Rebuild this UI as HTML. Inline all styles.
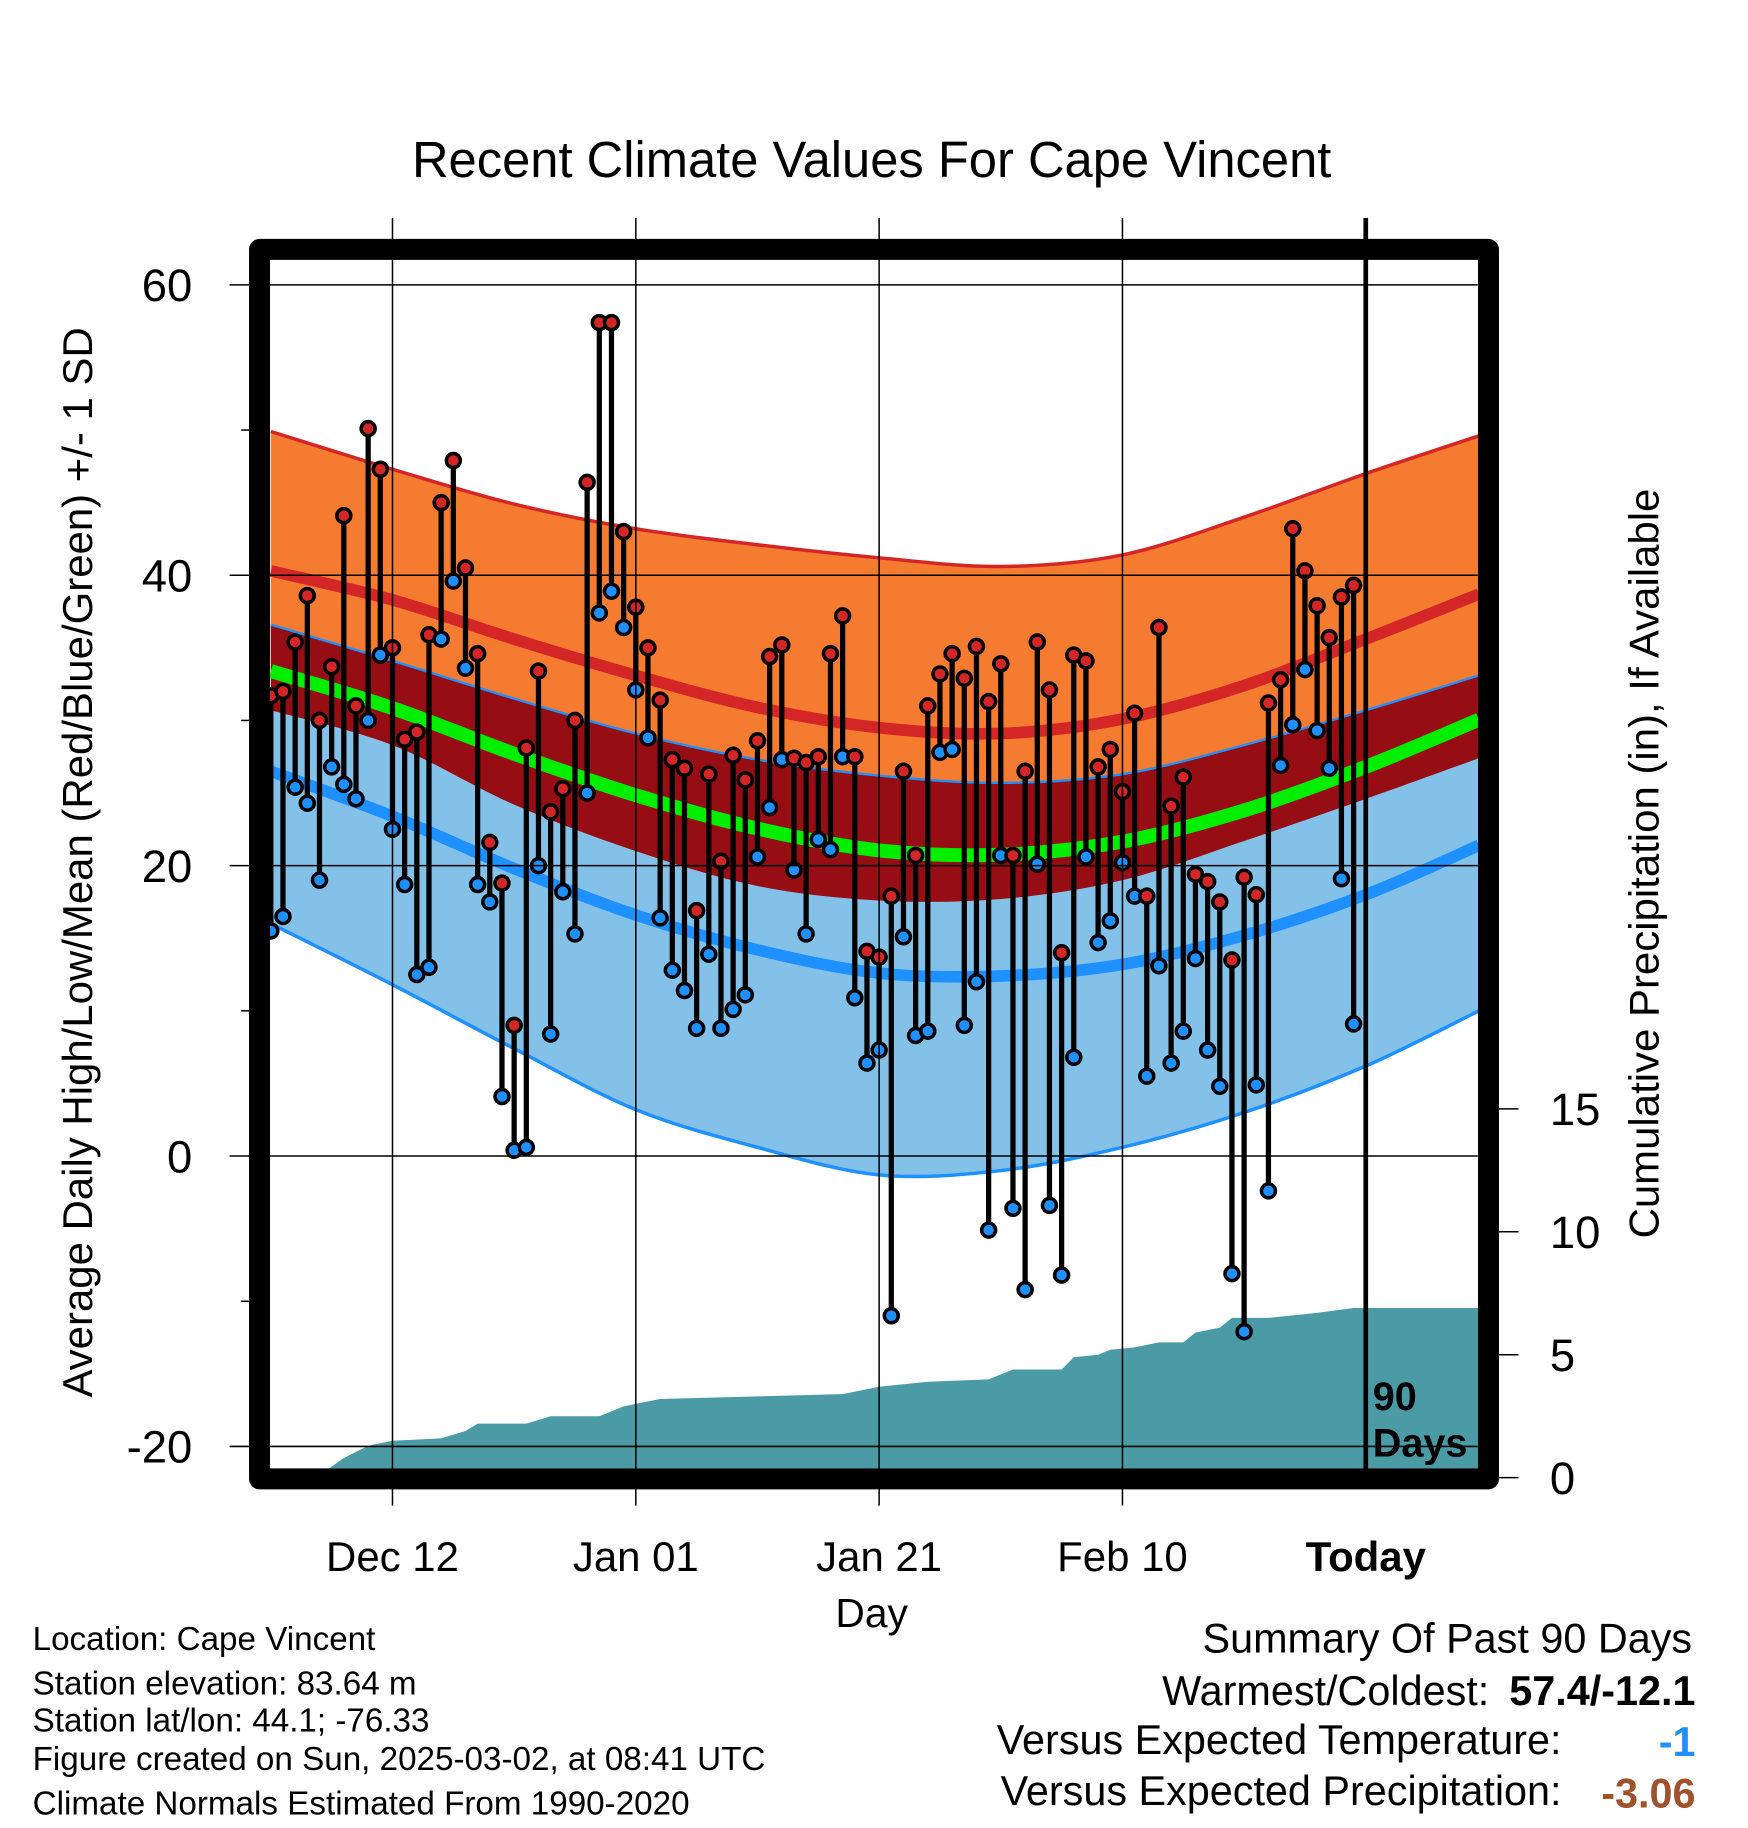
<!DOCTYPE html>
<html><head><meta charset="utf-8"><style>
html,body{margin:0;padding:0;background:#fff;}
svg{display:block;font-family:"Liberation Sans",Arial,sans-serif;}
</style></head><body>
<svg id="chart" width="1748" height="1828" viewBox="0 0 1500 1568.6" xmlns="http://www.w3.org/2000/svg">
<defs><clipPath id="plotclip"><rect x="231.7" y="223" width="1036.6" height="1037"/></clipPath></defs>
<text x="748" y="152" font-size="43.5" text-anchor="middle">Recent Climate Values For Cape Vincent</text>
<g id="plot" clip-path="url(#plotclip)"></g>
<g id="axes"></g>
<rect x="222.7" y="214" width="1054.6" height="1055" fill="none" stroke="#000" stroke-width="18" stroke-linejoin="round"/>
<text transform="translate(79,740) rotate(-90)" font-size="36" text-anchor="middle">Average Daily High/Low/Mean (Red/Blue/Green) +/- 1 SD</text>
<text transform="translate(1423,741) rotate(-90)" font-size="36" text-anchor="middle">Cumulative Precipitation (in), If Available</text>
<text x="748" y="1396" font-size="35" text-anchor="middle">Day</text>
<text x="1178" y="1210" font-size="34" font-weight="bold">90</text>
<text x="1178" y="1250" font-size="34" font-weight="bold">Days</text>
<g font-size="28.5">
<text x="28" y="1416">Location: Cape Vincent</text>
<text x="28" y="1454">Station elevation: 83.64 m</text>
<text x="28" y="1486">Station lat/lon: 44.1; -76.33</text>
<text x="28" y="1519">Figure created on Sun, 2025-03-02, at 08:41 UTC</text>
<text x="28" y="1557">Climate Normals Estimated From 1990-2020</text>
</g>
<g font-size="35.5">
<text x="1452" y="1418" text-anchor="end">Summary Of Past 90 Days</text>
<text x="1278" y="1463" text-anchor="end">Warmest/Coldest:</text>
<text x="1455" y="1463" text-anchor="end" font-weight="bold">57.4/-12.1</text>
<text x="1340" y="1505" text-anchor="end">Versus Expected Temperature:</text>
<text x="1455" y="1507" text-anchor="end" font-weight="bold" fill="#1e90ff">-1</text>
<text x="1340" y="1549" text-anchor="end">Versus Expected Precipitation:</text>
<text x="1455" y="1551" text-anchor="end" font-weight="bold" fill="#a0522d">-3.06</text>
</g>
</svg>
<script>
// Data (day offsets relative to today; -90..-1)
const highs=[31.7,32,35.4,38.6,30,33.7,44.1,31,50.1,47.3,35,28.7,29.2,35.9,45,47.9,40.5,34.6,21.6,18.8,9,28.1,33.4,23.7,25.3,30,46.4,57.4,57.4,43,37.8,35,31.4,27.3,26.7,16.9,26.3,20.3,27.6,25.9,28.6,34.4,35.2,27.4,27.1,27.5,34.6,37.2,27.5,14.1,13.7,17.9,26.5,20.7,31,33.2,34.6,32.9,35.1,31.3,33.9,20.7,26.5,35.4,32.1,14,34.5,34.1,26.8,28,25.1,30.5,17.9,36.4,24.1,26.1,19.4,18.9,17.5,13.5,19.2,18,31.2,32.8,43.2,40.3,37.9,35.7,38.5,39.3];
const lows=[15.5,16.5,25.4,24.3,19,26.8,25.6,24.6,30,34.5,22.5,18.7,12.5,13,35.6,39.6,33.6,18.7,17.5,4.1,0.4,0.6,20,8.4,18.2,15.3,25,37.4,38.9,36.4,32.1,28.8,16.4,12.8,11.4,8.8,13.9,8.8,10.1,11.1,20.6,24,27.3,19.7,15.3,21.8,21.1,27.5,10.9,6.4,7.3,-11,15.1,8.3,8.6,27.8,28,9,12,-5.1,20.7,-3.6,-9.2,20.1,-3.4,-8.2,6.8,20.6,14.7,16.2,20.2,17.9,5.5,13.1,6.4,8.6,13.6,7.3,4.8,-8.1,-12.1,4.9,-2.4,26.9,29.7,33.5,29.3,26.7,19.1,9.1];
const normDays=[-90,-80,-70,-60,-50,-40,-30,-20,-10,0,9.3];
const highUpper=[49.9,47.3,44.9,43.2,42.1,41.2,40.6,41.4,44.0,47.0,49.6];
const highMean=[40.3,38.3,35.6,33.1,30.9,29.5,29.1,30.1,32.4,35.6,38.7];
const highLower=[30.7,28.3,24.2,21.0,18.6,17.6,17.7,19.0,21.7,24.6,27.4];
const lowUpper=[36.6,34.1,31.5,29.1,27.3,26.2,25.7,26.3,28.3,30.7,33.1];
const lowMean=[26.5,23.4,19.8,16.6,14.2,12.6,12.4,13.2,15.2,18.0,21.4];
const lowLower=[16.0,11.8,7.4,3.2,0.6,-1.3,-1.0,0.6,3.0,6.2,10.0];
const precipDays=[-86,-84,-82,-80,-76,-74,-73,-69,-67,-63,-61,-60,-58,-43,-40,-36,-31,-29,-25,-24,-22,-21,-19,-17,-15,-14,-12,-11,-8,-4,-1,9.3];
const precipCum=[0.1,0.8,1.3,1.5,1.6,1.9,2.2,2.2,2.5,2.5,2.9,3.0,3.2,3.4,3.7,3.9,4.0,4.4,4.4,4.9,5.0,5.2,5.3,5.5,5.5,5.9,6.1,6.5,6.5,6.7,6.9,6.9];
const xTickDays=[-80,-60,-40,-20,0];
const xTickLabels=["Dec 12","Jan 01","Jan 21","Feb 10","Today"];
const yTicks=[60,40,20,0,-20];
const yMinor=[50,30,10,-10];
const pTicks=[0,5,10,15];

const NS="http://www.w3.org/2000/svg";
const X=d=>1172+d*10.44;
const Y=v=>992-v*12.46;
const P=v=>1268-v*21.1;
function mk(tag,attrs,parent){const e=document.createElementNS(NS,tag);for(const k in attrs)e.setAttribute(k,attrs[k]);parent.appendChild(e);return e;}
function smooth(xs,ys){
  let d=`M${xs[0]},${ys[0]}`;
  for(let i=0;i<xs.length-1;i++){
    const x0=xs[Math.max(i-1,0)],y0=ys[Math.max(i-1,0)],x1=xs[i],y1=ys[i],x2=xs[i+1],y2=ys[i+1],x3=xs[Math.min(i+2,xs.length-1)],y3=ys[Math.min(i+2,xs.length-1)];
    d+=` C${x1+(x2-x0)/6},${y1+(y2-y0)/6} ${x2-(x3-x1)/6},${y2-(y3-y1)/6} ${x2},${y2}`;
  }
  return d;
}
function smoothRev(xs,ys){const d=smooth(xs.slice().reverse(),ys.slice().reverse());return d.replace(/^M/,'L');}
const plot=document.getElementById('plot'), axes=document.getElementById('axes');
const nx=normDays.map(X);
function band(upper,lower,fill,name){
  const p=mk('path',{d:smooth(nx,upper.map(Y))+' '+smoothRev(nx,lower.map(Y))+' Z',fill:fill},plot);
  
  
}
function line(vals,stroke,w,name){
  const p=mk('path',{d:smooth(nx,vals.map(Y)),fill:'none',stroke:stroke,'stroke-width':w},plot);
  
  
}
band(highUpper,highLower,'#f47b30','high-sd-band');
band(lowUpper,lowLower,'#84c1e8','low-sd-band');
band(lowUpper,highLower,'#960e14','overlap-band');
line(highUpper,'#d42626',3,'high-upper-line');
line(highMean,'#d42626',10,'high-mean-line');
line(lowUpper,'#1e90ff',2,'low-upper-line');
line(lowMean,'#1e90ff',10,'low-mean-line');
line(lowLower,'#1e90ff',3,'low-lower-line');
line(highMean.map((h,i)=>(h+lowMean[i])/2),'#00ee00',12,'mean-line');
let pd=`M${X(precipDays[0])},1270`;
precipDays.forEach((d,i)=>{pd+=` L${X(d)},${P(precipCum[i])}`;});
pd+=` L${X(precipDays[precipDays.length-1])},1270 Z`;
const pa=mk('path',{d:pd,fill:'#4a9ba5'},plot);


yTicks.forEach(v=>{
  const g=mk('line',{x1:197,x2:1268,y1:Y(v),y2:Y(v),stroke:'#000','stroke-width':1.3},axes);
  
  
  const t=mk('text',{x:165,y:Y(v)+14,'font-size':39,'text-anchor':'end'},axes);t.textContent=v;
  
  
});
yMinor.forEach(v=>{
  const g=mk('line',{x1:207,x2:220,y1:Y(v),y2:Y(v),stroke:'#000','stroke-width':1.3},axes);
  
  
});
xTickDays.forEach((d,i)=>{
  const today=d===0;
  const g=mk('line',{x1:X(d),x2:X(d),y1:187,y2:today?1262:1292,stroke:'#000','stroke-width':today?4:1.3},axes);
  
  
  const t=mk('text',{x:X(d),y:1348,'font-size':36,'text-anchor':'middle','font-weight':today?'bold':'normal'},axes);t.textContent=xTickLabels[i];
  
  
});
pTicks.forEach(v=>{
  const g=mk('line',{x1:1284,x2:1303,y1:P(v),y2:P(v),stroke:'#000','stroke-width':1.3},axes);
  
  
  const t=mk('text',{x:1330,y:P(v)+14,'font-size':39},axes);t.textContent=v;
  
  
});
highs.forEach((h,i)=>{
  const x=X(i-90);
  const s=mk('line',{x1:x,x2:x,y1:Y(h),y2:Y(lows[i]),stroke:'#000','stroke-width':4.5},plot);
  
  
});
highs.forEach((h,i)=>{
  const x=X(i-90);
  const c1=mk('circle',{cx:x,cy:Y(lows[i]),r:6,fill:'#1e90ff',stroke:'#000','stroke-width':3},plot);
  
  
  const c2=mk('circle',{cx:x,cy:Y(h),r:6,fill:'#d42626',stroke:'#000','stroke-width':3},plot);
  
  
});
</script>
</body></html>
